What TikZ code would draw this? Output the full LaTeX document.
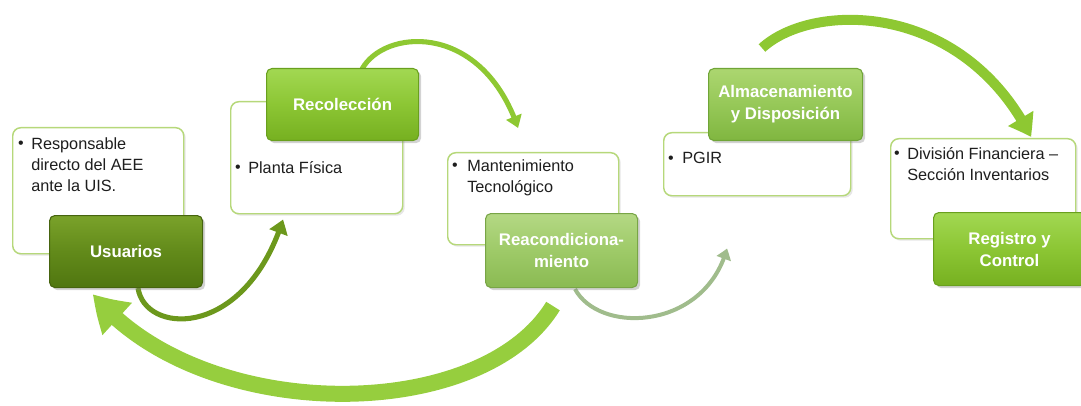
\documentclass[tikz,border=0pt]{standalone}
\usepackage{fontspec}
\setmainfont{Liberation Sans}
\usetikzlibrary{arrows.meta,bending,shadows,calc}
\pgfdeclarelayer{arrowlayer}
\pgfsetlayers{arrowlayer,main}
\definecolor{wborder}{RGB}{182,216,122}
\definecolor{usuT}{RGB}{122,162,42}
\definecolor{usuM}{RGB}{98,138,26}
\definecolor{usuB}{RGB}{80,118,16}
\definecolor{usuD}{RGB}{70,100,15}
\definecolor{brT}{RGB}{162,216,82}
\definecolor{brM}{RGB}{140,198,52}
\definecolor{brB}{RGB}{118,176,32}
\definecolor{brD}{RGB}{105,160,30}
\definecolor{ltT}{RGB}{180,216,132}
\definecolor{ltM}{RGB}{158,202,104}
\definecolor{ltB}{RGB}{138,186,82}
\definecolor{ltD}{RGB}{120,165,70}
\definecolor{alT}{RGB}{172,214,112}
\definecolor{alM}{RGB}{150,200,88}
\definecolor{alB}{RGB}{128,182,64}
\definecolor{alD}{RGB}{112,165,55}
\definecolor{aDark}{RGB}{108,152,28}
\definecolor{aBright}{RGB}{142,200,50}
\definecolor{aGrey}{RGB}{160,188,140}
\definecolor{aBig}{RGB}{150,206,62}
\definecolor{txt}{RGB}{30,30,30}
\begin{document}
\begin{tikzpicture}[x=0.75pt,y=-0.75pt,
  wbox/.style={draw=wborder, line width=1.1pt, fill=white, rounded corners=6pt,
    anchor=north west, inner sep=0pt,
    drop shadow={opacity=0.2, shadow xshift=1.5pt, shadow yshift=-1.5pt}},
  gbox/.style={rounded corners=4pt, anchor=north west, inner sep=0pt, text=white,
    align=center, font=\bfseries\fontsize{12.6}{16.5}\selectfont, line width=0.8pt,
    drop shadow={opacity=0.35, shadow xshift=2pt, shadow yshift=-2pt}},
  btxt/.style={anchor=north west, inner sep=0pt, align=left, text=txt,
    font=\fontsize{12.2}{16.1}\selectfont},
  bul/.style={inner sep=0pt, text=txt, font=\fontsize{12}{12}\selectfont},
  arr/.style={line cap=butt},
]
\useasboundingbox (0,0) rectangle (1081,406);

% ---------- white boxes ----------
\node[wbox, minimum width=171*0.75pt, minimum height=126*0.75pt] (usuw) at (12,127) {};
\node[wbox, minimum width=172*0.75pt, minimum height=112*0.75pt] (recw) at (230,101) {};
\node[wbox, minimum width=171*0.75pt, minimum height=92*0.75pt] (reaw) at (447,152) {};
\node[wbox, minimum width=187*0.75pt, minimum height=63*0.75pt] (almw) at (663,132) {};
\node[wbox, minimum width=185*0.75pt, minimum height=100*0.75pt] (regw) at (890,138) {};

% ---------- bullet texts ----------
\node[bul] (b1) at (21,145) {•};
\node[btxt] (t1) at (31,137) {Responsable\\directo del AEE\\ante la UIS.};
\node[bul] (b2) at (238,169) {•};
\node[btxt] (t2) at (248,161) {Planta Física};
\node[bul] (b3) at (455,167) {•};
\node[btxt] (t3) at (467,159) {Mantenimiento\\Tecnológico};
\node[bul] (b4) at (671,160) {•};
\node[btxt] (t4) at (682,152) {PGIR};
\node[bul] (b5) at (897,155) {•};
\node[btxt] (t5) at (907,147) {División Financiera –\\Sección Inventarios};

% ---------- green boxes ----------
\node[gbox, top color=usuT, bottom color=usuB, middle color=usuM, draw=usuD,
  minimum width=153*0.75pt, minimum height=72*0.75pt] (usu) at (49,215) {Usuarios};
\node[gbox, top color=brT, bottom color=brB, middle color=brM, draw=brD,
  minimum width=152*0.75pt, minimum height=72*0.75pt] (rec) at (266,68) {Recolección};
\node[gbox, top color=ltT, bottom color=ltB, middle color=ltM, draw=ltD,
  minimum width=152*0.75pt, minimum height=74*0.75pt] (rea) at (485,213) {Reacondiciona-\\miento};
\node[gbox, top color=alT, bottom color=alB, middle color=alM, draw=alD,
  minimum width=154*0.75pt, minimum height=72*0.75pt] (alm) at (708,68) {Almacenamiento\\y Disposición};
\node[gbox, top color=brT, bottom color=brB, middle color=brM, draw=brD,
  minimum width=152*0.75pt, minimum height=73*0.75pt] (reg) at (933,212) {Registro y\\Control};

% ---------- arrows (behind boxes) ----------
\coordinate (a4s) at (762,48);
\begin{pgfonlayer}{arrowlayer}
\draw[arr, draw=aDark, line width=3.8pt, -{Triangle[width=14pt,length=10.5pt,bend]}]
  ($(usu.south west)+(89,0)$) .. controls (145,335) and (245,340) .. ($(recw.south west)+(53,5)$);
\draw[arr, draw=aBright, line width=3.8pt, -{Triangle[width=12pt,length=9pt,bend]}]
  ($(rec.north west)+(96,1)$) .. controls (385,28) and (482,22) .. ($(reaw.north west)+(71,-24)$);
\draw[arr, draw=aGrey, line width=3pt, -{Triangle[width=11pt,length=8pt,bend]}]
  ($(rea.south west)+(90,1)$) .. controls (600,335) and (705,330) .. ($(almw.south west)+(64,52)$);
\draw[arr, draw=aBright, line width=7.5pt, -{Triangle[width=21pt,length=16pt,bend]}]
  (a4s) .. controls (812,2) and (962,0) .. ($(regw.north west)+(141,-1)$);
\draw[arr, draw=aBig, line width=12pt, -{Triangle[width=31pt,length=26pt,bend]}]
  ($(rea.south west)+(68,18)$) .. controls (480,425) and (200,425) .. ($(usu.south west)+(44,6)$);
\end{pgfonlayer}
\end{tikzpicture}
\end{document}
